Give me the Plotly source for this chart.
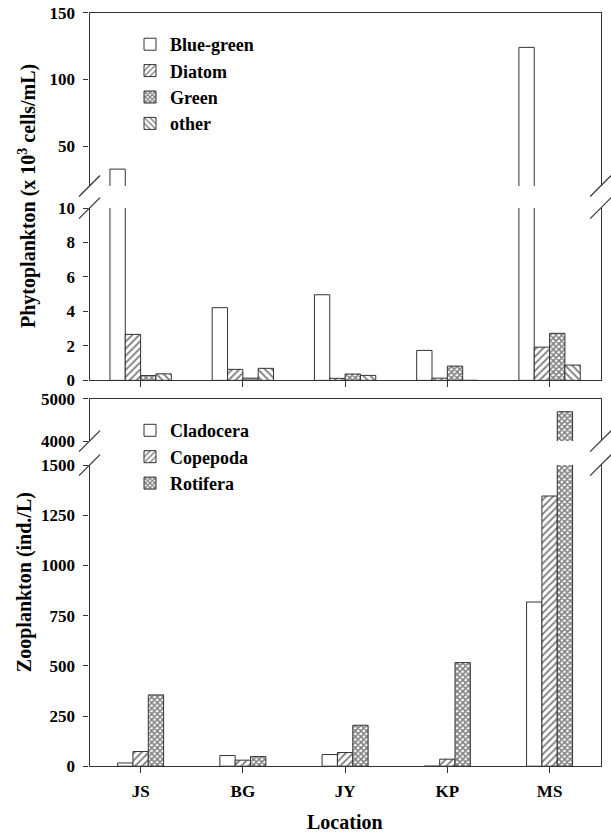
import plotly.graph_objects as go

# ---------------- data ----------------
categories = ["JS", "BG", "JY", "KP", "MS"]

# Phytoplankton (x 10^3 cells/mL)
blue_green = [32.7, 4.22, 4.97, 1.74, 124.0]
diatom = [2.67, 0.64, 0.12, 0.13, 1.93]
green = [0.28, 0.13, 0.37, 0.83, 2.73]
other = [0.38, 0.70, 0.29, 0.0, 0.89]

# Zooplankton (ind./L)
cladocera = [16, 53, 58, 0, 818]
copepoda = [73, 30, 68, 35, 1346]
rotifera = [355, 48, 204, 516, 4690]

phyto_ticks_upper = [50, 100, 150]
phyto_ticks_lower = [0, 2, 4, 6, 8, 10]
zoo_ticks_upper = [4000, 5000]
zoo_ticks_lower = [0, 250, 500, 750, 1000, 1250, 1500]

# ---------------- style ----------------
W, H = 611, 835
FONT = "Liberation Serif, Times New Roman, serif"
LINE = "#333333"
BAR_W = 0.15
Y_OFF, Y_SC = 9.0, 0.977   # empirical vertical mapping of the snapshot

def px_x(p):
    return p / W

def px_y(p):
    return 1 - ((p - Y_OFF) / Y_SC) / H

X_DOM = [px_x(89.5), px_x(600.7)]
Y1_DOM = [px_y(186), px_y(12.7)]     # phyto upper 20-150
Y2_DOM = [px_y(380.3), px_y(208)]    # phyto lower 0-10
Y3_DOM = [px_y(441), px_y(398.5)]    # zoo upper 4000-5000
Y4_DOM = [px_y(766), px_y(465)]      # zoo lower 0-1500

PAT_NONE = dict(shape="")
PAT_DIAG = dict(shape="/", size=5, solidity=0.36, fgcolor="#000000", bgcolor="white")
PAT_BACK = dict(shape="\\", size=5, solidity=0.36, fgcolor="#000000", bgcolor="white")
PAT_CROSS = dict(shape="x", size=4, solidity=0.62, fgcolor="#000000", bgcolor="white")

fig = go.Figure()

top_series = [
    ("Blue-green", blue_green, PAT_NONE),
    ("Diatom", diatom, PAT_DIAG),
    ("Green", green, PAT_CROSS),
    ("other", other, PAT_BACK),
]
bottom_series = [
    ("Cladocera", cladocera, PAT_NONE),
    ("Copepoda", copepoda, PAT_DIAG),
    ("Rotifera", rotifera, PAT_CROSS),
]

def add_group(series, axes_pairs, legend_name):
    n = len(series)
    for i, (name, vals, pat) in enumerate(series):
        for k, (xa, ya) in enumerate(axes_pairs):
            fig.add_trace(go.Bar(
                x=categories, y=vals, name=name,
                xaxis=xa, yaxis=ya,
                width=BAR_W, offset=-BAR_W * n / 2 + i * BAR_W,
                marker=dict(color="white", line=dict(color=LINE, width=1), pattern=pat),
                showlegend=(k == 1), legend=legend_name,
                hoverinfo="x+y+name",
            ))

add_group(top_series, [("x", "y"), ("x2", "y2")], "legend")
add_group(bottom_series, [("x3", "y3"), ("x4", "y4")], "legend2")

TICKFONT = dict(size=17, family=FONT, color="black", weight="bold")
axis_common = dict(showgrid=False, zeroline=False, showline=True, linecolor=LINE,
                   linewidth=1.2, tickcolor=LINE, tickwidth=1.2, fixedrange=True)
x_common = dict(axis_common, domain=X_DOM, range=[-0.5, 4.5], type="category",
                categoryorder="array", categoryarray=categories)
y_common = dict(axis_common, ticks="outside", ticklen=5, mirror=True,
                ticklabelstandoff=5, tickfont=TICKFONT)

LEGFONT = dict(size=18, family=FONT, color="black", weight="bold")

fig.update_layout(
    width=W, height=H,
    margin=dict(l=0, r=0, t=0, b=0),
    paper_bgcolor="white", plot_bgcolor="white",
    barmode="overlay",
    font=dict(family=FONT, size=17, color="black", weight="bold"),
    xaxis=dict(x_common, anchor="y", side="top", ticks="", showticklabels=False),
    xaxis2=dict(x_common, anchor="y2", ticks="outside", ticklen=6, showticklabels=False),
    xaxis3=dict(x_common, anchor="y3", side="top", ticks="", showticklabels=False),
    xaxis4=dict(x_common, anchor="y4", ticks="outside", ticklen=6, showticklabels=True,
                ticklabelstandoff=3, tickfont=TICKFONT),
    yaxis=dict(y_common, domain=Y1_DOM, anchor="x", range=[20, 150], tickvals=phyto_ticks_upper),
    yaxis2=dict(y_common, domain=Y2_DOM, anchor="x2", range=[0, 10], tickvals=phyto_ticks_lower),
    yaxis3=dict(y_common, domain=Y3_DOM, anchor="x3", range=[4000, 5000], tickvals=zoo_ticks_upper),
    yaxis4=dict(y_common, domain=Y4_DOM, anchor="x4", range=[0, 1500], tickvals=zoo_ticks_lower),
    legend=dict(x=px_x(130), y=px_y(26), xanchor="left", yanchor="top",
                bgcolor="rgba(0,0,0,0)", tracegroupgap=0, font=LEGFONT),
    legend2=dict(x=px_x(130), y=px_y(412), xanchor="left", yanchor="top",
                 bgcolor="rgba(0,0,0,0)", tracegroupgap=0, font=LEGFONT),
    showlegend=True,
)

# axis-break slashes
shapes = []
for ydom_edge in [Y1_DOM[0], Y2_DOM[1], Y3_DOM[0], Y4_DOM[1]]:
    for xe in X_DOM:
        shapes.append(dict(type="line", xref="paper", yref="paper",
                           xsizemode="pixel", ysizemode="pixel",
                           xanchor=xe, yanchor=ydom_edge,
                           x0=-10.5, x1=10.5, y0=-10.5, y1=10.5,
                           line=dict(color=LINE, width=1.2)))
fig.update_layout(shapes=shapes)

# axis titles
TITLEFONT = dict(size=20, family=FONT, color="black", weight="bold")
fig.add_annotation(text="Phytoplankton (x 10<sup>3</sup> cells/mL)", xref="paper", yref="paper",
                   x=px_x(27), y=px_y(196), xanchor="center", yanchor="middle",
                   textangle=-90, showarrow=False, font=TITLEFONT)
fig.add_annotation(text="Zooplankton (ind./L)", xref="paper", yref="paper",
                   x=px_x(24), y=px_y(582), xanchor="center", yanchor="middle",
                   textangle=-90, showarrow=False, font=TITLEFONT)
fig.add_annotation(text="Location", xref="paper", yref="paper",
                   x=px_x(345), y=px_y(822), xanchor="center", yanchor="middle",
                   showarrow=False, font=TITLEFONT)

POST = (
    "document.documentElement.style.margin='0';"
    "document.documentElement.style.padding='0';"
    "document.documentElement.style.overflow='hidden';"
    "document.body.style.margin='0';"
    "document.body.style.padding='0';"
    "document.body.style.overflow='hidden';"
    "var d=document.getElementsByClassName('plotly-graph-div')[0];"
    "d.style.position='fixed';d.style.left='0px';d.style.top='0px';"
)

fig.write_html("out.html", config={"displayModeBar": False}, post_script=POST)
